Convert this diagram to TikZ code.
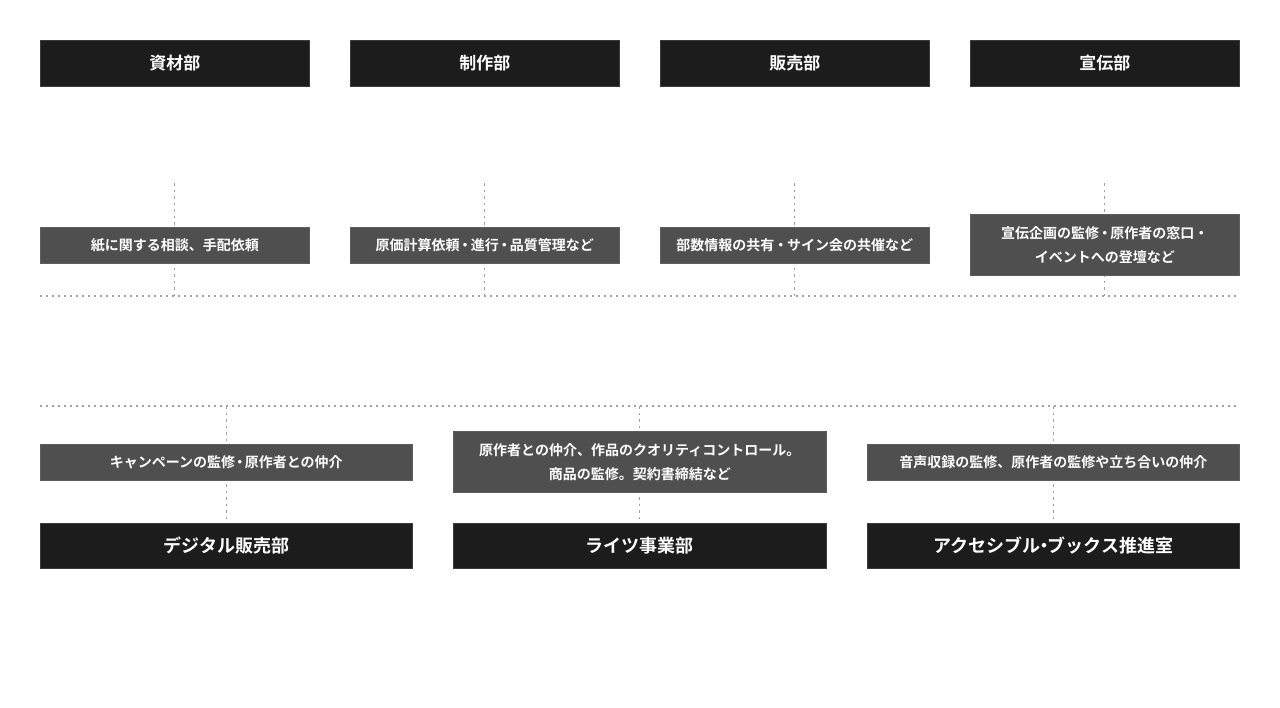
\documentclass[tikz,border=0pt]{standalone}
\usepackage{fontspec}
\setmainfont{Noto Sans CJK JP}[BoldFont={Noto Sans CJK JP Bold}]
\definecolor{deptfill}{HTML}{1C1C1C}
\definecolor{deptline}{HTML}{3C3C3C}
\definecolor{rolefill}{HTML}{4F4F4F}
\definecolor{roleline}{HTML}{5E5E5E}
\definecolor{dotcol}{HTML}{A2A2A2}
\newcommand{\nkg}[1]{\kern-#1em・\kern-#1em}
\tikzset{
  dept/.style={draw=deptline, line width=0.8pt, fill=deptfill, text=white, inner sep=0pt, outer sep=0pt,
    minimum height=45.5pt, font=\bfseries\fontsize{17}{20}\selectfont, align=center},
  role/.style={draw=roleline, line width=0.6pt, fill=rolefill, text=white, inner sep=0pt, outer sep=0pt,
    minimum height=36.5pt, font=\bfseries\fontsize{14}{24}\selectfont, align=center},
  hdot/.style={dotcol, line width=1.5pt, dash pattern=on 1.5pt off 4.5pt},
  vdot/.style={dotcol, line width=1.4pt, dash pattern=on 2.5pt off 4pt},
}
\begin{document}
\begin{tikzpicture}[x=1pt,y=-1pt]
\useasboundingbox[fill=white] (0,0) rectangle (1280,707);
% coordinates for dotted connectors
\foreach \n/\x in {1/174.75,2/484.75,3/794.75,4/1104.75}{
  \coordinate (ta\n) at (\x,183);
  \coordinate (tb\n) at (\x,296);
}
\coordinate (hl1) at (40,296);
\coordinate (hr1) at (1240,296);
\coordinate (hl2) at (40,406);
\coordinate (hr2) at (1240,406);
\foreach \n/\x in {1/226.25,2/639.75,3/1053.25}{
  \coordinate (ba\n) at (\x,406);
  \coordinate (bb\n) at (\x,523);
}
% dotted lines
\draw[hdot] (hl1) -- (hr1);
\draw[hdot] (hl2) -- (hr2);
\foreach \n in {1,2,3,4}{ \draw[vdot] (ta\n) -- (tb\n); }
\foreach \n in {1,2,3}{ \draw[vdot] (ba\n) -- (bb\n); }
% top departments
\node[dept, minimum width=269.5pt] (d1) at (174.75,63.5) {資材部};
\node[dept, minimum width=269.5pt] (d2) at (484.75,63.5) {制作部};
\node[dept, minimum width=269.5pt] (d3) at (794.75,63.5) {販売部};
\node[dept, minimum width=269.5pt] (d4) at (1104.75,63.5) {宣伝部};
% top roles
\node[role, minimum width=269.5pt] (r1) at (174.75,245.5) {紙に関する相談、手配依頼};
\node[role, minimum width=269.5pt] (r2) at (484.75,245.5) {原価計算依頼\nkg{0.1}進行\nkg{0.1}品質管理など};
\node[role, minimum width=269.5pt] (r3) at (794.75,245.5) {部数情報の共有\nkg{0.05}サイン会の共催など};
\node[role, minimum width=269.5pt, minimum height=61.5pt] (r4) at (1104.75,245) {宣伝企画の監修\nkg{0.1}原作者の窓口・\\イベントへの登壇など};
% bottom roles
\node[role, minimum width=372.5pt] (s1) at (226.25,462.5) {キャンペーンの監修\nkg{0.15}原作者との仲介};
\node[role, minimum width=372.5pt, minimum height=61.5pt] (s2) at (639.75,462) {原作者との仲介、作品のクオリティコントロール。\\商品の監修。契約書締結など};
\node[role, minimum width=372.5pt] (s3) at (1053.25,462.5) {音声収録の監修、原作者の監修や立ち合いの仲介};
% bottom departments
\node[dept, minimum width=372.5pt, font=\bfseries\fontsize{18}{22}\selectfont] (e1) at (226.25,546) {デジタル販売部};
\node[dept, minimum width=372.5pt, font=\bfseries\fontsize{18}{22}\selectfont] (e2) at (639.75,546) {ライツ事業部};
\node[dept, minimum width=372.5pt, font=\bfseries\fontsize{18}{22}\selectfont] (e3) at (1053.25,546) {アクセシブル\nkg{0.3}ブックス推進室};
\end{tikzpicture}
\end{document}
